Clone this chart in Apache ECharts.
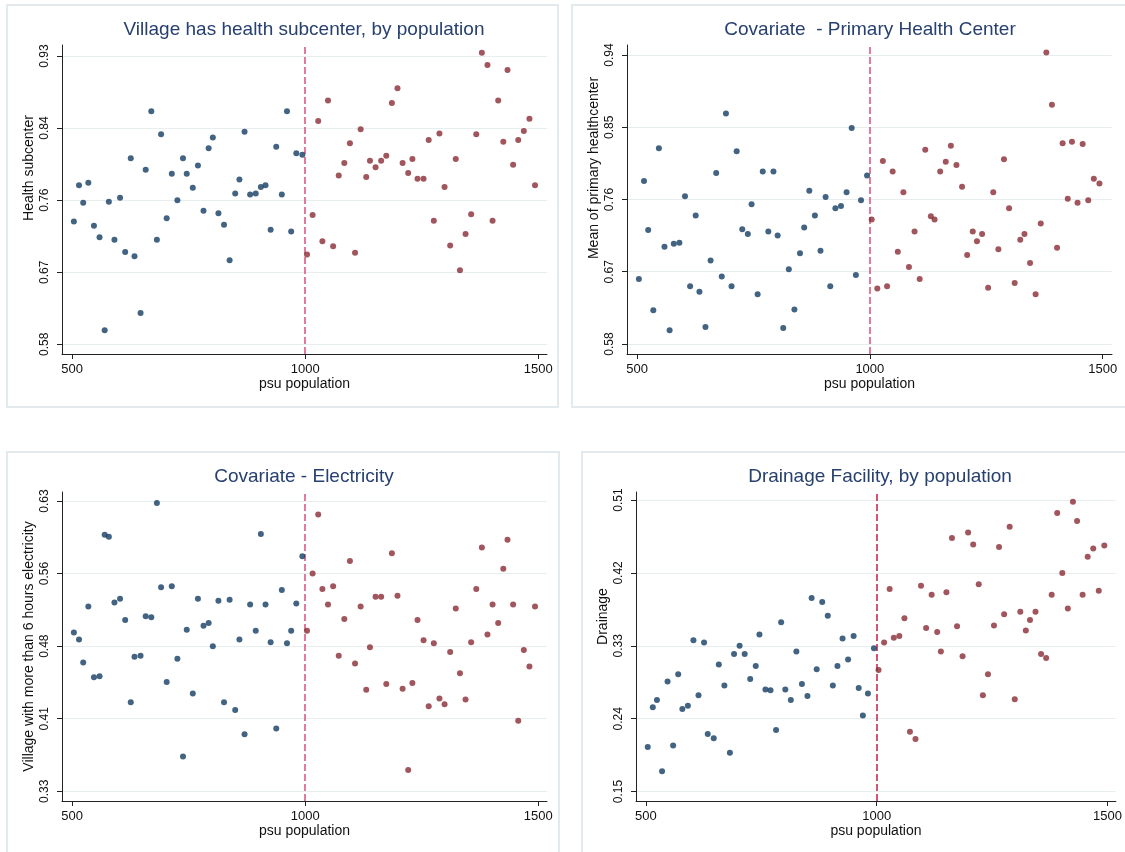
<!DOCTYPE html>
<html>
<head>
<meta charset="utf-8">
<script src="https://cdn.jsdelivr.net/npm/echarts@6/dist/echarts.min.js"></script>
<style>
  html, body { margin: 0; padding: 0; background: #ffffff; }
  #chart { width: 1125px; height: 852px; }
</style>
</head>
<body>
<div id="chart"></div>
<script>
// ---------- data ----------
const xLeft = [504, 515, 524, 535, 547, 559, 570, 579, 591, 603, 614, 626, 634, 647, 658, 670, 682, 691, 703, 714,
  726, 738, 746, 759, 770, 782, 793, 802, 814, 826, 838, 850, 859, 870, 882, 894, 905, 915, 926, 938,
  950, 961, 970, 981, 994];
const xRight = [1004, 1016, 1028, 1037, 1049, 1060, 1072, 1084, 1096, 1107, 1119, 1131, 1139, 1151, 1163, 1174,
  1186, 1198, 1209, 1221, 1230, 1241, 1254, 1265, 1276, 1288, 1299, 1311, 1323, 1332, 1344, 1356, 1367,
  1379, 1391, 1402, 1414, 1425, 1434, 1446, 1457, 1469, 1481, 1493];

const subcenterLeft = [0.729, 0.773, 0.752, 0.776, 0.724, 0.710, 0.597, 0.753, 0.707, 0.758,
  0.692, 0.806, 0.687, 0.618, 0.792, 0.863, 0.707, 0.835, 0.733, 0.787,
  0.755, 0.806, 0.787, 0.770, 0.797, 0.742, 0.818, 0.831, 0.739, 0.725,
  0.682, 0.763, 0.780, 0.838, 0.762, 0.763, 0.771, 0.773, 0.719, 0.820,
  0.762, 0.863, 0.717, 0.812, 0.810];
const subcenterRight = [0.689, 0.737, 0.851, 0.705, 0.876, 0.699, 0.785, 0.800, 0.824, 0.691,
  0.841, 0.783, 0.803, 0.795, 0.803, 0.809, 0.873, 0.891, 0.800, 0.788,
  0.805, 0.781, 0.781, 0.828, 0.730, 0.836, 0.771, 0.700, 0.805, 0.670,
  0.714, 0.738, 0.835, 0.934, 0.919, 0.730, 0.876, 0.826, 0.913, 0.798,
  0.828, 0.839, 0.854, 0.773];

const phcLeft = [0.661, 0.783, 0.722, 0.622, 0.824, 0.701, 0.597, 0.705, 0.706, 0.764,
  0.652, 0.740, 0.645, 0.601, 0.684, 0.793, 0.664, 0.867, 0.652, 0.820,
  0.723, 0.717, 0.754, 0.642, 0.795, 0.720, 0.795, 0.715, 0.600, 0.673,
  0.623, 0.693, 0.725, 0.771, 0.740, 0.696, 0.763, 0.652, 0.749, 0.752,
  0.769, 0.849, 0.666, 0.759, 0.790];
const phcRight = [0.735, 0.649, 0.808, 0.652, 0.795, 0.695, 0.769, 0.676, 0.720, 0.661,
  0.822, 0.739, 0.735, 0.795, 0.807, 0.827, 0.803, 0.776, 0.691, 0.720,
  0.708, 0.717, 0.650, 0.769, 0.698, 0.810, 0.749, 0.656, 0.710, 0.717,
  0.681, 0.642, 0.730, 0.943, 0.878, 0.700, 0.830, 0.761, 0.832, 0.756,
  0.829, 0.759, 0.786, 0.780];

const elecLeft = [0.494, 0.487, 0.463, 0.521, 0.448, 0.449, 0.595, 0.593, 0.525, 0.529,
  0.507, 0.422, 0.469, 0.470, 0.511, 0.510, 0.628, 0.541, 0.443, 0.542,
  0.467, 0.366, 0.497, 0.431, 0.529, 0.501, 0.504, 0.480, 0.527, 0.422,
  0.528, 0.414, 0.487, 0.389, 0.523, 0.496, 0.596, 0.523, 0.484, 0.395,
  0.538, 0.483, 0.496, 0.524, 0.573];
const elecRight = [0.496, 0.555, 0.616, 0.539, 0.523, 0.542, 0.470, 0.508, 0.568, 0.462,
  0.521, 0.435, 0.479, 0.531, 0.531, 0.441, 0.576, 0.532, 0.436, 0.352,
  0.442, 0.507, 0.486, 0.418, 0.483, 0.426, 0.420, 0.474, 0.519, 0.452,
  0.425, 0.484, 0.539, 0.582, 0.492, 0.523, 0.504, 0.560, 0.590, 0.523,
  0.403, 0.476, 0.459, 0.521];

const drainLeft = [0.205, 0.254, 0.263, 0.175, 0.286, 0.207, 0.295, 0.252, 0.256, 0.337,
  0.269, 0.334, 0.221, 0.216, 0.307, 0.281, 0.198, 0.320, 0.330, 0.320,
  0.289, 0.305, 0.344, 0.276, 0.275, 0.226, 0.359, 0.276, 0.263, 0.323,
  0.283, 0.268, 0.389, 0.301, 0.384, 0.367, 0.281, 0.305, 0.339, 0.313,
  0.342, 0.278, 0.244, 0.271, 0.327];
const drainRight = [0.300, 0.334, 0.400, 0.340, 0.342, 0.364, 0.224, 0.215, 0.404, 0.352,
  0.393, 0.347, 0.323, 0.396, 0.463, 0.354, 0.317, 0.470, 0.455, 0.406,
  0.269, 0.295, 0.355, 0.452, 0.369, 0.477, 0.264, 0.372, 0.349, 0.362,
  0.372, 0.320, 0.315, 0.393, 0.494, 0.420, 0.376, 0.508, 0.484, 0.393,
  0.440, 0.450, 0.398, 0.454];

const cutoff = 1000;
const xTicks = [500, 1000, 1500];
const yTicks1 = [0.58, 0.6675, 0.755, 0.8425, 0.93];
const yTickLabels1 = ['0.58', '0.67', '0.76', '0.84', '0.93'];
const yTicks2 = [0.58, 0.67, 0.76, 0.85, 0.94];
const yTickLabels2 = ['0.58', '0.67', '0.76', '0.85', '0.94'];
const yTicks3 = [0.33, 0.405, 0.48, 0.555, 0.63];
const yTickLabels3 = ['0.33', '0.41', '0.48', '0.56', '0.63'];
const yTicks4 = [0.15, 0.24, 0.33, 0.42, 0.51];
const yTickLabels4 = ['0.15', '0.24', '0.33', '0.42', '0.51'];

const titles = ['Village has health subcenter, by population',
  'Covariate  - Primary Health Center',
  'Covariate - Electricity',
  'Drainage Facility, by population'];
const yNames = ['Health subcenter', 'Mean of primary healthcenter',
  'Village with more than 6 hours electricity', 'Drainage'];
const xName = 'psu population';

// ---------- layout / style ----------
const FONT = '"Liberation Sans", Arial, sans-serif';
const BLUE = '#133c63';
const RED = '#8a2a33';
const GRID_LINE = '#e6eef0';
const FRAME = '#e3eaed';

const panels = [
  { grid: { left: 62, top: 45, width: 485, height: 309 }, xMin: 478.5, xMax: 1518.7, yMin: 0.5682, yMax: 0.9434,
    yTicks: yTicks1, yLabels: yTickLabels1, left: subcenterLeft, right: subcenterRight,
    titleX: 304, titleY: 20, cutColor: '#d9507a', nameShift: 63 },
  { grid: { left: 627, top: 45, width: 485, height: 309 }, xMin: 478.5, xMax: 1520, yMin: 0.5675, yMax: 0.9525,
    yTicks: yTicks2, yLabels: yTickLabels2, left: phcLeft, right: phcRight,
    titleX: 870, titleY: 20, cutColor: '#d9507a', nameShift: 63 },
  { grid: { left: 62, top: 492, width: 485, height: 309 }, xMin: 478.5, xMax: 1518.7, yMin: 0.32, yMax: 0.6393,
    yTicks: yTicks3, yLabels: yTickLabels3, left: elecLeft, right: elecRight,
    titleX: 304, titleY: 467, cutColor: '#d9507a', nameShift: 0 },
  { grid: { left: 636, top: 492, width: 486, height: 309 }, xMin: 478.6, xMax: 1518, yMin: 0.1384, yMax: 0.5199,
    yTicks: yTicks4, yLabels: yTickLabels4, left: drainLeft, right: drainRight,
    titleX: 880, titleY: 467, cutColor: '#c41f44', nameShift: 60 }
];

const option = {
  animation: false,
  backgroundColor: '#ffffff',
  textStyle: { fontFamily: FONT },
  graphic: [
    { type: 'rect', shape: { x: 7, y: 5, width: 551, height: 402 }, style: { fill: 'none', stroke: FRAME, lineWidth: 2 }, silent: true, z: -10 },
    { type: 'rect', shape: { x: 572, y: 5, width: 570, height: 402 }, style: { fill: 'none', stroke: FRAME, lineWidth: 2 }, silent: true, z: -10 },
    { type: 'rect', shape: { x: 7, y: 452, width: 552, height: 430 }, style: { fill: 'none', stroke: FRAME, lineWidth: 2 }, silent: true, z: -10 },
    { type: 'rect', shape: { x: 582, y: 452, width: 570, height: 430 }, style: { fill: 'none', stroke: FRAME, lineWidth: 2 }, silent: true, z: -10 }
  ],
  title: panels.map((p, i) => ({
    text: titles[i], left: p.titleX, top: p.titleY, textAlign: 'center', padding: 0,
    textStyle: { fontFamily: FONT, fontSize: 19, fontWeight: 'normal', color: '#27406f' }
  })),
  grid: panels.map(p => Object.assign({ containLabel: false }, p.grid)),
  xAxis: panels.map((p, i) => ({
    type: 'value', gridIndex: i, min: p.xMin, max: p.xMax,
    name: xName, nameLocation: 'middle', nameGap: 23,
    nameTextStyle: { fontFamily: FONT, fontSize: 14, color: '#111' },
    axisLine: { show: true, onZero: false, lineStyle: { color: '#222', width: 1 } },
    axisTick: { show: true, length: 5, customValues: xTicks, lineStyle: { color: '#222' } },
    axisLabel: { customValues: xTicks, margin: 9, fontFamily: FONT, fontSize: 13, color: '#111',
      formatter: v => String(Math.round(v)) },
    splitLine: { show: false }
  })),
  yAxis: panels.map((p, i) => ({
    type: 'value', gridIndex: i, min: p.yMin, max: p.yMax,
    name: yNames[i], nameLocation: 'middle', nameGap: 26,
    nameTextStyle: { fontFamily: FONT, fontSize: 14, color: '#111', padding: [0, 0, 0, p.nameShift] },
    axisLine: { show: true, onZero: false, lineStyle: { color: '#222', width: 1 } },
    axisTick: { show: true, length: 5, customValues: p.yTicks, lineStyle: { color: '#222' } },
    axisLabel: {
      customValues: p.yTicks, rotate: 90, margin: 11, fontFamily: FONT, fontSize: 12, color: '#111',
      formatter: v => {
        for (let k = 0; k < p.yTicks.length; k++) {
          if (Math.abs(v - p.yTicks[k]) < 1e-6) return p.yLabels[k];
        }
        return '';
      }
    },
    splitLine: { show: true, lineStyle: { color: GRID_LINE, width: 1 } }
  })),
  series: panels.flatMap((p, i) => [
    {
      type: 'scatter', xAxisIndex: i, yAxisIndex: i, symbol: 'circle', symbolSize: 6,
      itemStyle: { color: BLUE }, data: xLeft.map((x, k) => [x, p.left[k]]), z: 3
    },
    {
      type: 'scatter', xAxisIndex: i, yAxisIndex: i, symbol: 'circle', symbolSize: 6,
      itemStyle: { color: RED }, data: xRight.map((x, k) => [x, p.right[k]]), z: 3,
      markLine: {
        silent: true, symbol: ['none', 'none'], label: { show: false },
        lineStyle: { type: [7, 3], color: p.cutColor, width: 1.5 },
        data: [{ xAxis: cutoff }], z: 2
      }
    }
  ])
};

const chart = echarts.init(document.getElementById('chart'), null, { renderer: 'canvas' });
chart.setOption(option);
</script>
</body>
</html>
